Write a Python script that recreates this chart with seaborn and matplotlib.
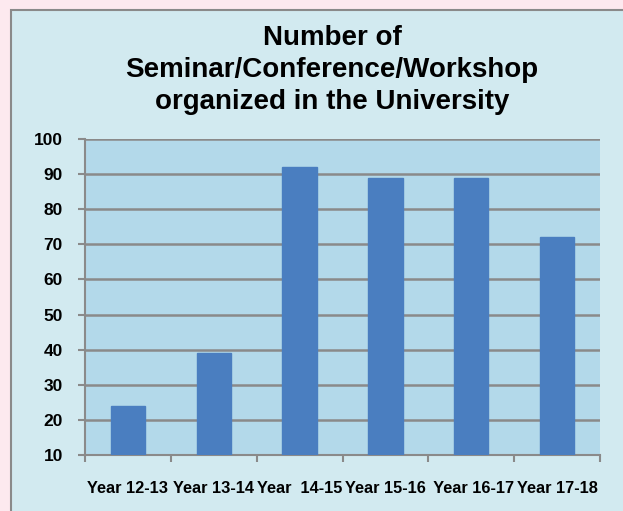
import matplotlib
matplotlib.use("Agg")
import matplotlib.pyplot as plt
import seaborn as sns
import pandas as pd
from matplotlib.patches import Rectangle

categories = ["Year 12-13", "Year 13-14", "Year  14-15", "Year 15-16", " Year 16-17", "Year 17-18"]
values = [24, 39, 92, 89, 89, 72]
yticks = [10, 20, 30, 40, 50, 60, 70, 80, 90, 100]
title = "Number of\nSeminar/Conference/Workshop\norganized in the University"

sns.set_style("white")
plt.rcParams['font.family'] = ['Liberation Sans', 'DejaVu Sans']
plt.rcParams['text.color'] = 'black'

df = pd.DataFrame({"cat": categories, "val": values})

fig = plt.figure(figsize=(6.23, 5.11), dpi=100)
fig.patch.set_facecolor("#fde9ef")
panel = Rectangle((11/623, -0.05), 1.2, 1 - 10/511 + 0.05, transform=fig.transFigure,
                  facecolor="#d2eaf0", edgecolor="#8a8a8a", linewidth=1.5, zorder=-5)
fig.patches.append(panel)

ax = fig.add_axes([85/623, 1 - 455/511, (600 - 85)/623, (455 - 139)/511])
ax.set_zorder(2)
ax.set_facecolor("#b3d9ea")
sns.barplot(data=df, x="cat", y="val", ax=ax, color="#4a7ec0", width=0.4,
            saturation=1, edgecolor="#4a7ec0", zorder=3)
ax.set_ylim(10, 100)
ax.set_xlim(-0.5, 5.5)
ax.set_yticks(yticks)
ax.set_yticklabels([str(t) for t in yticks], fontsize=12.5, fontweight="bold")
ax.set_xticks(range(len(categories)))
ax.set_xticklabels(categories, fontsize=11.8, fontweight="bold")
ax.set_xticks([i - 0.5 for i in range(len(categories) + 1)], minor=True)
ax.tick_params(axis="x", which="major", bottom=False, length=0, pad=19, labelcolor="black")
ax.tick_params(axis="x", which="minor", bottom=True, length=5, width=1.5, color="#8a8a8a", direction="out")
ax.tick_params(axis="y", which="major", left=True, length=5, width=1.5, color="#8a8a8a",
               labelcolor="black", direction="out", pad=11)
ax.yaxis.grid(True, color="#8a8a8a", linewidth=1.8, zorder=1)
ax.set_axisbelow(True)
ax.set_xlabel("")
ax.set_ylabel("")
for s in ["top", "right"]:
    ax.spines[s].set_visible(False)
for s in ["left", "bottom"]:
    ax.spines[s].set_color("#8a8a8a")
    ax.spines[s].set_linewidth(1.5)

fig.text(332/623, 1 - 70/511, title, ha="center", va="center", fontsize=20,
         fontweight="bold", linespacing=1.32, color="black")

fig.savefig("out.png", dpi=100, facecolor=fig.get_facecolor())
